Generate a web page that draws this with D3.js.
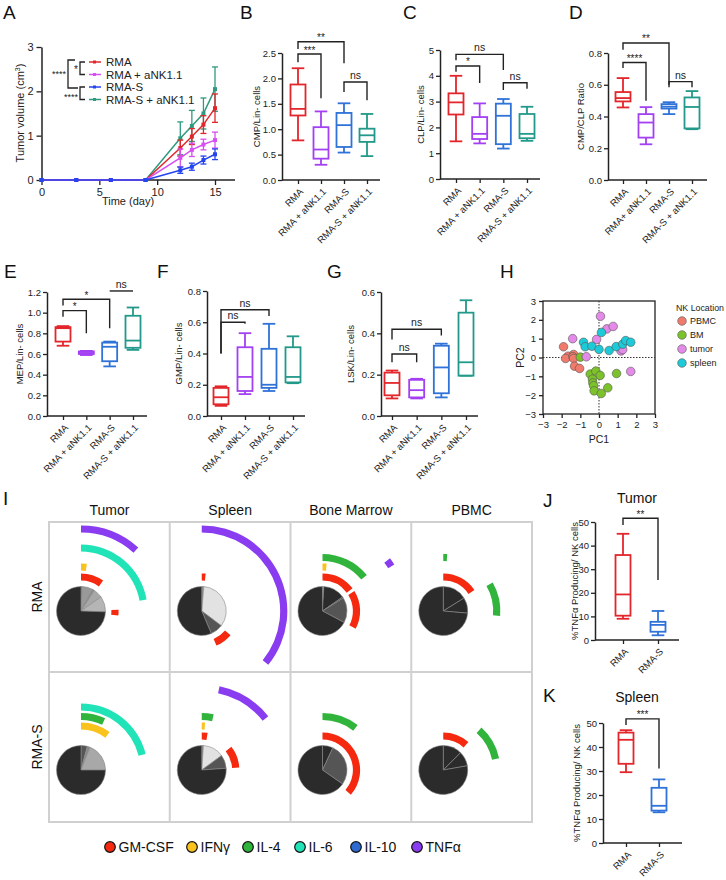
<!DOCTYPE html>
<html><head><meta charset="utf-8">
<script src="https://cdn.jsdelivr.net/npm/d3@7"></script>
<style>body{margin:0;background:#fff}</style>
</head><body><script>
// ---------------- DATA ----------------
const groups  = ["RMA","RMA + aNK1.1","RMA-S","RMA-S + aNK1.1"];
const groupsD = ["RMA","RMA+ aNK1.1","RMA-S","RMA-S + aNK1.1"];
const groups2 = ["RMA","RMA-S"];

// Panel A: tumor volume (cm3) mean and error
const days = [0,3,6,9,12,13,14,15];
const volRMA      = [0,0,0,0,0.72,0.98,1.25,1.62];
const volRMAaNK   = [0,0,0,0,0.50,0.68,0.80,0.90];
const volRMAS     = [0,0,0,0,0.22,0.30,0.45,0.58];
const volRMASaNK  = [0,0,0,0,0.94,1.22,1.50,2.05];
const errRMA      = [0,0,0,0,0.18,0.18,0.20,0.32];
const errRMAaNK   = [0,0,0,0,0.20,0.15,0.12,0.18];
const errRMAS     = [0,0,0,0,0.07,0.08,0.09,0.12];
const errRMASaNK  = [0,0,0,0,0.37,0.35,0.35,0.50];
const volTicks = [0,1,2,3];
const dayTicks = [0,5,10,15];

// Box stats: [min, q1, median, q3, max]
const cmpLin = [[0.78,1.27,1.40,1.88,2.20],[0.30,0.42,0.60,1.04,1.35],[0.54,0.65,1.08,1.32,1.51],[0.47,0.75,0.88,1.01,1.30]];
const clpLin = [[1.46,2.50,2.97,3.32,4.00],[1.38,1.55,1.75,2.40,2.93],[1.18,1.35,2.45,2.92,3.10],[1.48,1.58,1.75,2.52,2.80]];
const cmpClp = [[0.457,0.495,0.516,0.554,0.642],[0.225,0.267,0.362,0.415,0.459],[0.415,0.450,0.462,0.478,0.490],[0.320,0.325,0.460,0.520,0.560]];
const mepLin = [[0.68,0.72,0.85,0.86,0.87],[0.59,0.60,0.61,0.625,0.63],[0.48,0.53,0.67,0.71,0.72],[0.64,0.66,0.73,0.97,1.05]];
const gmpLin = [[0.065,0.075,0.12,0.18,0.19],[0.14,0.16,0.25,0.44,0.53],[0.16,0.18,0.20,0.43,0.59],[0.21,0.215,0.25,0.44,0.51]];
const lskLin = [[0.085,0.10,0.16,0.21,0.22],[0.085,0.09,0.125,0.175,0.18],[0.09,0.11,0.235,0.34,0.35],[0.195,0.195,0.26,0.50,0.56]];
const tnfTumor  = [[9,10.3,19.3,36,45],[2,3.5,6.4,7.7,12.3]];
const tnfSpleen = [[29.5,33,43,46,47],[12.8,13.5,15.5,23,26.5]];

// brackets: [groupA, groupB, lineValue, legAEnd, legBEnd, label]
const brB = [[0,2,2.72,2.58,2.30,"**"],[0,1,2.48,2.32,1.61,"***"],[2,3,1.93,1.73,1.57,"ns"]];
const brC = [[0,2,4.83,4.60,4.22,"ns"],[0,1,4.38,4.16,3.72,"*"],[2,3,3.73,3.45,3.50,"ns"]];
const brD = [[0,2,0.863,0.82,0.60,"**"],[0,1,0.74,0.705,0.50,"****"],[2,3,0.62,0.585,0.585,"ns"]];
const brE = [[0,2,1.13,1.07,0.85,"*"],[0,1,1.02,0.96,0.80,"*"],[2,3,1.21,1.21,1.21,"ns"]];
const brF = [[0,2,0.68,0.40,0.64,"ns"],[0,1,0.60,0.40,0.59,"ns"]];
const brG = [[0,2,0.42,0.37,0.39,"ns"],[0,1,0.30,0.26,0.26,"ns"]];
const brJ = [[0,1,51.6,48.7,25.4,"**"]];
const brK = [[0,1,51.7,49.2,31,"***"]];

// Panel H: PCA points [PC1, PC2]
const pcaPBMC = [[-1.9,0.57],[-1.66,0.07],[-1.79,-0.05],[-1.36,0.16],[-1.4,0.04],[-1.36,-0.05],[-1.31,-0.46],[-1.04,-0.58]];
const pcaBM = [[-1.0,0.02],[-0.47,-0.88],[-0.17,-0.72],[0.06,-0.95],[-0.35,-1.15],[-0.33,-1.35],[-0.29,-1.5],[-0.26,-1.77],[0.12,-1.91],[0.47,-1.61],[0.94,-0.85]];
const pcaTumor = [[0.08,2.19],[0.42,1.52],[0.76,1.65],[-1.41,1.0],[-0.13,0.96],[-0.68,0.04],[1.18,0.35],[1.27,0.42],[1.7,-0.74]];
const pcaSpleen = [[0.13,1.33],[-0.83,0.81],[-0.74,0.57],[-0.38,0.6],[0.0,0.43],[0.54,0.37],[0.92,0.58],[1.27,0.71],[1.43,0.9],[1.7,0.81]];
const pcaNames = ["PBMC","BM","tumor","spleen"];
const pcaTicks = [-3,-2,-1,0,1,2,3];

// Panel I: SPICE-like pies
const tissues = ["Tumor","Spleen","Bone Marrow","PBMC"];
const tumorLines = ["RMA","RMA-S"];
const cytokines = ["GM-CSF","IFNγ","IL-4","IL-6","IL-10","TNFα"];
// slices: [degrees, shade index]; arcs: [cytokine index, startDeg, endDeg]
const pieTumorRMA   = [[3,2],[25,4],[5,3],[22,5],[37,6],[268,0]];
const arcTumorRMA   = [[0,0,36],[0,88,97],[1,0,7],[3,0,80],[5,0,42]];
const pieSpleenRMA  = [[5,3],[122,7],[30,1],[203,0]];
const arcSpleenRMA  = [[0,0,6],[0,130,157],[5,0,129]];
const pieBMRMA      = [[3,8],[52,0],[3,0],[60,1],[242,0]];
const arcBMRMA      = [[0,0,53],[0,58,118],[1,0,5],[2,0,51],[5,52,57]];
const piePBMCRMA    = [[58,0],[37,0],[265,0]];
const arcPBMCRMA    = [[0,0,56],[2,0,4],[2,60,95]];
const pieTumorRMAS  = [[15,1],[7,3],[68,5],[270,0]];
const arcTumorRMAS  = [[1,0,37],[2,0,25],[3,0,76]];
const pieSpleenRMAS = [[4,3],[50,7],[32,1],[274,0]];
const arcSpleenRMAS = [[0,0,9],[0,52,86],[1,0,4],[2,0,12],[5,12,51]];
const pieBMRMAS     = [[25,0],[100,1],[235,0]];
const arcBMRMAS     = [[0,0,131],[2,0,38]];
const piePBMCRMAS   = [[45,0],[35,0],[280,0]];
const arcPBMCRMAS   = [[0,0,42],[2,42,78]];

// ---------------- STYLE ----------------
const FONT = "'Liberation Sans', Arial, Helvetica, sans-serif";
const groupColors = ["#e3262b","#a340f2","#2f72d8","#22998a"];
const volColors = ["#e3262b","#d64ff0","#2444ee","#2f9a7e"];
const pcaColors = ["#f07a6c","#7cc22a","#e48ae8","#1dcad8"];
const shades = ["#2b2b2b","#555555","#777777","#8a8a8a","#999999","#a8a8a8","#b5b5b5","#e2e2e2","#f2f2f2"];
const cytoColors = ["#f4290f","#f9c21c","#30b43c","#20e3b8","#2e6bd0","#8a3cf0"];
const cytoRadius = [34,44,53.5,63,72.5,82];
const AX = "#222";

const svg = d3.select("body").append("svg").attr("width",726).attr("height",880)
  .style("background","#fff").style("font-family",FONT);

function letter(t,x,y){ svg.append("text").attr("x",x).attr("y",y).attr("font-size",19).attr("fill","#111").text(t); }

function styleAxis(a, fs){
  a.attr("font-family",FONT);
  a.select(".domain").attr("stroke",AX).attr("stroke-width",1.5);
  a.selectAll(".tick line").attr("stroke",AX).attr("stroke-width",1.3);
  a.selectAll(".tick text").attr("font-size",fs).attr("fill","#222");
}

function boxPanel(c){
  const g = svg.append("g");
  const y = d3.scaleLinear().domain([0,c.max]).range([c.yBot,c.yTop]);
  const x = d3.scalePoint().domain(c.labels).range([c.cx0,c.cx1]);
  const ya = g.append("g").attr("transform",`translate(${c.ax},0)`)
    .call(d3.axisLeft(y).tickValues(c.ticks).tickFormat(c.fmt).tickSize(4).tickSizeOuter(0).tickPadding(2));
  styleAxis(ya, 9.5);
  const xa = g.append("g").attr("transform",`translate(0,${c.yBot})`)
    .call(d3.axisBottom(x).tickSize(4));
  xa.select(".domain").remove();
  xa.append("line").attr("x1",c.ax).attr("x2",c.axEnd).attr("stroke",AX).attr("stroke-width",1.5);
  styleAxis(xa, 9.5);
  xa.selectAll(".tick text").attr("text-anchor","end").attr("x",0).attr("y",0).attr("dy","0.35em")
    .attr("transform","translate(3,10) rotate(-45)");
  const bw = c.bw || 15;
  c.data.forEach((d,i)=>{
    const cx = x(c.labels[i]), col = c.colors[i];
    const s = g.append("g").attr("stroke",col).attr("stroke-width",1.8).attr("fill","none");
    s.append("line").attr("x1",cx).attr("x2",cx).attr("y1",y(d[0])).attr("y2",y(d[1]));
    s.append("line").attr("x1",cx).attr("x2",cx).attr("y1",y(d[3])).attr("y2",y(d[4]));
    s.append("line").attr("x1",cx-bw*0.42).attr("x2",cx+bw*0.42).attr("y1",y(d[0])).attr("y2",y(d[0]));
    s.append("line").attr("x1",cx-bw*0.42).attr("x2",cx+bw*0.42).attr("y1",y(d[4])).attr("y2",y(d[4]));
    s.append("rect").attr("x",cx-bw/2).attr("width",bw).attr("y",y(d[3])).attr("height",y(d[1])-y(d[3]));
    s.append("line").attr("x1",cx-bw/2).attr("x2",cx+bw/2).attr("y1",y(d[2])).attr("y2",y(d[2]));
  });
  (c.brackets||[]).forEach(b=>{
    const xa1 = x(c.labels[b[0]]), xb1 = x(c.labels[b[1]]);
    g.append("path").attr("d",`M${xa1},${y(b[3])}V${y(b[2])}H${xb1}V${y(b[4])}`)
      .attr("fill","none").attr("stroke",AX).attr("stroke-width",1.4);
    const ns = b[5]==="ns";
    g.append("text").attr("x",(xa1+xb1)/2).attr("y",y(b[2])-(ns?3:0.5)).attr("text-anchor","middle")
      .attr("font-size",ns?10.5:10).attr("fill","#222").text(b[5]);
  });
  g.append("text").attr("transform",`translate(${c.lx},${(c.yTop+c.yBot)/2}) rotate(-90)`)
    .attr("text-anchor","middle").attr("font-size",c.lfs||9.5).attr("fill","#222").text(c.ylabel);
  if(c.title) g.append("text").attr("x",c.title[1]).attr("y",c.title[2]).attr("text-anchor","middle")
    .attr("font-size",14).attr("fill","#111").text(c.title[0]);
}

// ---------------- PANEL A ----------------
letter("A",3,19);
(function(){
  const g = svg.append("g");
  const x = d3.scaleLinear().domain([0,15]).range([41.5,215]);
  const y = d3.scaleLinear().domain([0,3]).range([180,47]);
  const ya = g.append("g").attr("transform","translate(41.5,0)")
    .call(d3.axisLeft(y).tickValues(volTicks).tickFormat(d3.format("d")).tickSize(5).tickSizeOuter(0).tickPadding(3));
  styleAxis(ya, 11);
  const xa = g.append("g").attr("transform","translate(0,180)")
    .call(d3.axisBottom(x).tickValues(dayTicks).tickFormat(d3.format("d")).tickSize(5).tickSizeOuter(0));
  xa.select(".domain").remove();
  xa.append("line").attr("x1",41.5).attr("x2",235).attr("stroke",AX).attr("stroke-width",1.5);
  styleAxis(xa, 11);
  g.append("text").attr("x",128).attr("y",205).attr("text-anchor","middle").attr("font-size",11).attr("fill","#222").text("Time (day)");
  const yl = g.append("text").attr("transform","translate(24,113) rotate(-90)").attr("text-anchor","middle")
    .attr("font-size",11).attr("fill","#222");
  yl.append("tspan").text("Tumor volume (cm");
  yl.append("tspan").attr("font-size",7).attr("dy",-4).text("3");
  yl.append("tspan").attr("dy",4).text(")");
  const series = [[volRMASaNK,errRMASaNK,3],[volRMA,errRMA,0],[volRMAaNK,errRMAaNK,1],[volRMAS,errRMAS,2]];
  series.forEach(([v,e,ci])=>{
    const col = volColors[ci];
    const pts = days.map((d,i)=>[x(d),y(v[i]),e[i],v[i]]);
    g.append("path").attr("d",d3.line()(pts.map(p=>[p[0],p[1]]))).attr("fill","none").attr("stroke",col).attr("stroke-width",1.5);
    pts.forEach(p=>{
      if(p[2]>0){
        g.append("line").attr("x1",p[0]).attr("x2",p[0]).attr("y1",y(p[3]-p[2])).attr("y2",y(p[3]+p[2])).attr("stroke",col).attr("stroke-width",1.3);
        [p[3]-p[2],p[3]+p[2]].forEach(t=>g.append("line").attr("x1",p[0]-3).attr("x2",p[0]+3).attr("y1",y(t)).attr("y2",y(t)).attr("stroke",col).attr("stroke-width",1.3));
      }
      g.append("rect").attr("x",p[0]-2).attr("y",p[1]-2).attr("width",4).attr("height",4).attr("fill",col);
    });
  });
  // legend
  const names = ["RMA","RMA + aNK1.1","RMA-S","RMA-S + aNK1.1"];
  const ly = [62,74.5,87,99.5];
  names.forEach((n,i)=>{
    g.append("line").attr("x1",89).attr("x2",101).attr("y1",ly[i]).attr("y2",ly[i]).attr("stroke",volColors[i]).attr("stroke-width",1.5);
    g.append("rect").attr("x",93).attr("y",ly[i]-1.5).attr("width",3).attr("height",3).attr("fill",volColors[i]);
    g.append("text").attr("x",106).attr("y",ly[i]+4).attr("font-size",11.5).attr("fill","#222").text(n);
  });
  const br = (d)=>g.append("path").attr("d",d).attr("fill","none").attr("stroke",AX).attr("stroke-width",1.3);
  br("M85,62H80V74.5H85"); br("M85,87H80V99.5H85"); br("M75,60H68V88H78");
  g.append("text").attr("x",76).attr("y",73).attr("text-anchor","middle").attr("font-size",10).attr("fill","#222").text("*");
  g.append("text").attr("x",66).attr("y",77).attr("text-anchor","end").attr("font-size",9).attr("fill","#222").text("****");
  g.append("text").attr("x",78).attr("y",100).attr("text-anchor","end").attr("font-size",9).attr("fill","#222").text("****");
})();

// ---------------- BOX PANELS ----------------
letter("B",240,19);
boxPanel({labels:groups,data:cmpLin,colors:groupColors,brackets:brB,max:2.5,ticks:[0,0.5,1,1.5,2,2.5],fmt:d3.format(".1f"),
  ax:282,axEnd:380,yTop:53,yBot:180,cx0:298,cx1:367,lx:260,ylabel:"CMP/Lin- cells"});
letter("C",403,19);
boxPanel({labels:groups,data:clpLin,colors:groupColors,brackets:brC,max:5,ticks:[0,1,2,3,4,5],fmt:d3.format("d"),
  ax:440,axEnd:540,yTop:50,yBot:179,cx0:456,cx1:527,lx:424,ylabel:"CLP/Lin- cells"});
letter("D",569,19);
boxPanel({labels:groupsD,data:cmpClp,colors:groupColors,brackets:brD,max:0.8,ticks:[0,0.2,0.4,0.6,0.8],fmt:d3.format(".1f"),
  ax:608,axEnd:707,yTop:53,yBot:180,cx0:623,cx1:692,lx:584,ylabel:"CMP/CLP Ratio"});
letter("E",4,278);
boxPanel({labels:groups,data:mepLin,colors:groupColors,brackets:brE,max:1.2,ticks:[0,0.2,0.4,0.6,0.8,1.0,1.2],fmt:d3.format(".1f"),
  ax:47,axEnd:147,yTop:292,yBot:416,cx0:63,cx1:133,lx:23,ylabel:"MEP/Lin- cells"});
letter("F",157,278);
boxPanel({labels:groups,data:gmpLin,colors:groupColors,brackets:brF,max:0.8,ticks:[0,0.2,0.4,0.6,0.8],fmt:d3.format(".1f"),
  ax:207,axEnd:305,yTop:291,yBot:416,cx0:221,cx1:293,lx:182,ylabel:"GMP/Lin- cells"});
letter("G",327,278);
boxPanel({labels:groups,data:lskLin,colors:groupColors,brackets:brG,max:0.6,ticks:[0,0.2,0.4,0.6],fmt:d3.format(".1f"),
  ax:381,axEnd:478,yTop:292,yBot:416,cx0:392,cx1:466,lx:354,ylabel:"LSK/Lin- cells"});
letter("J",543,507);
boxPanel({labels:groups2,data:tnfTumor,colors:[groupColors[0],groupColors[2]],brackets:brJ,max:50,ticks:[0,10,20,30,40,50],fmt:d3.format("d"),
  ax:595,axEnd:679,yTop:522,yBot:640,cx0:623,cx1:658,lx:578,ylabel:"%TNFα Producing/ NK cells",title:["Tumor",637,503]});
letter("K",543,702);
boxPanel({labels:groups2,data:tnfSpleen,colors:[groupColors[0],groupColors[2]],brackets:brK,max:50,ticks:[0,10,20,30,40,50],fmt:d3.format("d"),
  ax:603,axEnd:682,yTop:723,yBot:843,cx0:626,cx1:659,lx:580,ylabel:"%TNFα Producing/ NK cells",title:["Spleen",637,702]});

// ---------------- PANEL H ----------------
letter("H",500,278);
(function(){
  const g = svg.append("g");
  const x = d3.scaleLinear().domain([-3,3]).range([543,655]);
  const y = d3.scaleLinear().domain([-3,3]).range([414,301]);
  g.append("rect").attr("x",543).attr("y",301).attr("width",112).attr("height",113).attr("fill","none").attr("stroke",AX).attr("stroke-width",1.3);
  const xa = g.append("g").attr("transform","translate(0,414)").call(d3.axisBottom(x).tickValues(pcaTicks).tickFormat(d3.format("d")).tickSize(4).tickSizeOuter(0));
  styleAxis(xa,9.5); xa.select(".domain").remove();
  const ya = g.append("g").attr("transform","translate(543,0)").call(d3.axisLeft(y).tickValues(pcaTicks).tickFormat(d3.format("d")).tickSize(4).tickSizeOuter(0));
  styleAxis(ya,9.5); ya.select(".domain").remove();
  g.append("line").attr("x1",x(0)).attr("x2",x(0)).attr("y1",301).attr("y2",414).attr("stroke","#333").attr("stroke-dasharray","1.5,1.5");
  g.append("line").attr("x1",543).attr("x2",655).attr("y1",y(0)).attr("y2",y(0)).attr("stroke","#333").attr("stroke-dasharray","1.5,1.5");
  [pcaPBMC,pcaBM,pcaTumor,pcaSpleen].forEach((arr,i)=>{
    g.selectAll(null).data(arr).enter().append("circle").attr("cx",d=>x(d[0])).attr("cy",d=>y(d[1])).attr("r",4.3)
      .attr("fill",pcaColors[i]).attr("stroke","#555").attr("stroke-width",0.6);
  });
  g.append("text").attr("x",599).attr("y",443).attr("text-anchor","middle").attr("font-size",10.5).attr("fill","#222").text("PC1");
  g.append("text").attr("transform","translate(524,357.5) rotate(-90)").attr("text-anchor","middle").attr("font-size",10.5).attr("fill","#222").text("PC2");
  g.append("text").attr("x",676).attr("y",311).attr("font-size",8.8).attr("fill","#222").text("NK Location");
  const ly=[321,335,349,363];
  pcaNames.forEach((n,i)=>{
    g.append("circle").attr("cx",682).attr("cy",ly[i]).attr("r",4.3).attr("fill",pcaColors[i]).attr("stroke","#555").attr("stroke-width",0.6);
    g.append("text").attr("x",690).attr("y",ly[i]+3.3).attr("font-size",9).attr("fill","#222").text(n);
  });
})();

// ---------------- PANEL I ----------------
letter("I",3,505);
(function(){
  const g = svg.append("g");
  const colX = d3.scaleBand().domain(tissues).range([49,532]);
  const rowY = d3.scaleBand().domain(tumorLines).range([522,822]);
  tissues.forEach(t=>g.append("text").attr("x",colX(t)+colX.bandwidth()/2).attr("y",515).attr("text-anchor","middle")
    .attr("font-size",14).attr("fill","#111").text(t));
  tumorLines.forEach(r=>g.append("text").attr("transform",`translate(42,${rowY(r)+rowY.bandwidth()/2}) rotate(-90)`)
    .attr("text-anchor","middle").attr("font-size",14).attr("fill","#111").text(r));
  const cells = [
    ["Tumor","RMA",pieTumorRMA,arcTumorRMA],["Spleen","RMA",pieSpleenRMA,arcSpleenRMA],
    ["Bone Marrow","RMA",pieBMRMA,arcBMRMA],["PBMC","RMA",piePBMCRMA,arcPBMCRMA],
    ["Tumor","RMA-S",pieTumorRMAS,arcTumorRMAS],["Spleen","RMA-S",pieSpleenRMAS,arcSpleenRMAS],
    ["Bone Marrow","RMA-S",pieBMRMAS,arcBMRMAS],["PBMC","RMA-S",piePBMCRMAS,arcPBMCRMAS]];
  const pie = d3.pie().sort(null).value(d=>d[0]);
  const rad = Math.PI/180;
  cells.forEach(([t,r,slices,arcs])=>{
    const cx = colX(t)+32, cy = rowY(r)+(r==="RMA"?89:98);
    const cg = g.append("g").attr("transform",`translate(${cx},${cy})`);
    const sa = d3.arc().innerRadius(0).outerRadius(24.5);
    cg.selectAll(null).data(pie(slices)).enter().append("path").attr("d",sa)
      .attr("fill",d=>shades[d.data[1]]).attr("stroke","#8a8a8a").attr("stroke-width",0.6);
    arcs.forEach(a=>{
      const ar = d3.arc().innerRadius(cytoRadius[a[0]]-3.6).outerRadius(cytoRadius[a[0]]+3.6)
        .startAngle(a[1]*rad).endAngle(a[2]*rad);
      cg.append("path").attr("d",ar()).attr("fill",cytoColors[a[0]]);
    });
  });
  // grid
  const lines = g.append("g").attr("stroke","#d0d0d0").attr("stroke-width",2).attr("fill","none");
  lines.append("rect").attr("x",49).attr("y",522).attr("width",483).attr("height",300);
  tissues.slice(1).forEach(t=>lines.append("line").attr("x1",colX(t)).attr("x2",colX(t)).attr("y1",522).attr("y2",822));
  lines.append("line").attr("x1",49).attr("x2",532).attr("y1",rowY("RMA-S")).attr("y2",rowY("RMA-S"));
  // legend
  const lx = [110,192,248,300,356,417];
  cytokines.forEach((c,i)=>{
    g.append("circle").attr("cx",lx[i]).attr("cy",847).attr("r",5.3).attr("fill",cytoColors[i]).attr("stroke","#111").attr("stroke-width",1.2);
    g.append("text").attr("x",lx[i]+8.5).attr("y",852).attr("font-size",14).attr("fill","#111").text(c);
  });
})();
</script></body></html>
